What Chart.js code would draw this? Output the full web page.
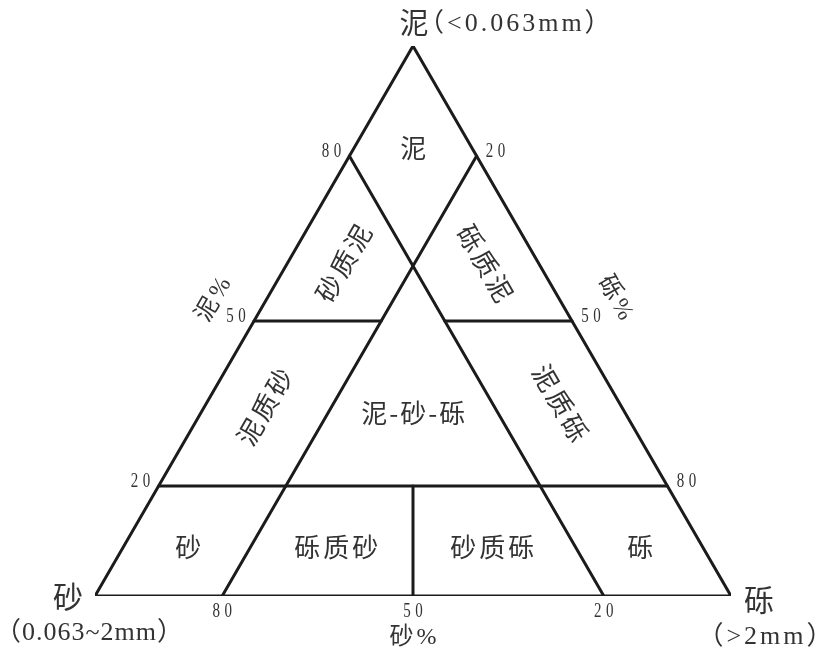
<!DOCTYPE html>
<html>
<head>
<meta charset="utf-8">
<title>泥-砂-砾 三角分类图</title>
<script src="https://cdn.jsdelivr.net/npm/chart.js@4"></script>
<style>
    html, body { margin: 0; padding: 0; background: #ffffff; }
    #wrap { width: 819px; height: 652px; }
</style>
</head>
<body>
<div id="wrap"><canvas id="ternaryChart" width="819" height="652"></canvas></div>
<script>
// compositions are [mud, sand, gravel] in percent
const vertexNames = ['泥', '砂', '砾'];
const vertexSizes = ['（<0.063mm）', '（0.063~2mm）', '（>2mm）'];
const axisTitles = ['泥%', '砾%', '砂%'];

const outline = [[0, 100, 0], [100, 0, 0], [0, 0, 100], [0, 100, 0]];
const dividers = [
    [[20, 80, 0], [20, 0, 80]],   // mud 20
    [[50, 50, 0], [50, 30, 20]],  // mud 50, left part
    [[50, 20, 30], [50, 0, 50]],  // mud 50, right part
    [[80, 0, 20], [0, 80, 20]],   // gravel 20
    [[80, 20, 0], [0, 20, 80]],   // sand 20
    [[20, 40, 40], [0, 50, 50]]   // sand = gravel below mud 20
];

const mudTicks = [80, 50, 20];     // left edge
const gravelTicks = [20, 50, 80];  // right edge
const sandTicks = [80, 50, 20];    // bottom edge

const regionNames = ['泥', '砂质泥', '砾质泥', '泥质砂', '泥-砂-砾', '泥质砾', '砂', '砾质砂', '砂质砾', '砾'];
const regionCentres = [
    [81.5, 9.2, 9.3], [60.5, 30.7, 8.8], [60.5, 8.4, 31.1], [34.4, 56.1, 9.5], [33.3, 33.3, 33.4],
    [35.1, 9.3, 55.6], [8.9, 80.9, 10.2], [8.9, 57.6, 33.5], [8.9, 33.1, 58.0], [8.9, 9.8, 81.3]
];

const LINE = '#1b1b1b';
const TEXT = '#333333';
const SERIF = '"Liberation Serif", "Noto Sans CJK SC", serif';
const CJK = '"Noto Sans CJK SC", sans-serif';

function toXY(c) {
    return { x: (c[2] + c[0] / 2) / 100, y: c[0] / 100 };
}

function lineDataset(points) {
    return {
        data: points.map(toXY),
        showLine: true,
        pointRadius: 0,
        borderColor: LINE,
        borderWidth: 3,
        borderJoinStyle: 'miter',
        borderCapStyle: 'round',
        fill: false
    };
}

// centred text; letter spacing is added after every glyph, so shift back by half of it
function drawText(ctx, text, x, y, font, angle, spacing, xScale) {
    ctx.save();
    ctx.translate(x, y);
    if (angle) ctx.rotate(angle * Math.PI / 180);
    if (xScale) ctx.scale(xScale, 1);
    ctx.font = font;
    ctx.fillStyle = TEXT;
    ctx.textAlign = 'center';
    ctx.textBaseline = 'middle';
    ctx.letterSpacing = (spacing || 0) + 'px';
    ctx.fillText(text, (spacing || 0) / 2, 0);
    ctx.restore();
}

function drawNumber(ctx, text, x, y) {
    drawText(ctx, text, x, y, '20px "Liberation Serif", serif', 0, 6, 0.75);
}

const ternaryLabels = {
    id: 'ternaryLabels',
    afterDatasetsDraw(chart) {
        const ctx = chart.ctx;
        const sx = chart.scales.x, sy = chart.scales.y;
        const px = c => {
            const p = toXY(c);
            return [sx.getPixelForValue(p.x), sy.getPixelForValue(p.y)];
        };

        // tick labels
        mudTicks.forEach(v => {
            const [x, y] = px([v, 100 - v, 0]);
            drawNumber(ctx, String(v), x - 18, y - 4);
        });
        gravelTicks.forEach(v => {
            const [x, y] = px([100 - v, 0, v]);
            drawNumber(ctx, String(v), x + 19, y - 4);
        });
        sandTicks.forEach(v => {
            const [x, y] = px([0, v, 100 - v]);
            drawNumber(ctx, String(v), x, y + 16);
        });

        // axis titles
        let p = px([50, 50, 0]);
        drawText(ctx, axisTitles[0], p[0] - 40, p[1] - 21, '24px ' + SERIF, -60, 3);
        p = px([50, 0, 50]);
        drawText(ctx, axisTitles[1], p[0] + 43, p[1] - 23, '24px ' + SERIF, 60, 3);
        p = px([0, 50, 50]);
        drawText(ctx, axisTitles[2], p[0], p[1] + 42, '24px ' + SERIF, 0, 3);

        // vertex names and grain sizes
        p = px([100, 0, 0]);
        drawText(ctx, vertexNames[0], p[0] + 1, p[1] - 23, '29px ' + CJK);
        ctx.save();
        ctx.font = '26px ' + SERIF;
        ctx.fillStyle = TEXT;
        ctx.textAlign = 'left';
        ctx.textBaseline = 'middle';
        ctx.letterSpacing = '3px';
        ctx.fillText(vertexSizes[0], p[0] + 5, p[1] - 22);
        ctx.restore();

        p = px([0, 100, 0]);
        drawText(ctx, vertexNames[1], p[0] - 27, p[1] + 1, '30px ' + CJK);
        drawText(ctx, vertexSizes[1], p[0] - 6, p[1] + 37, '26px ' + SERIF, 0, 1);

        p = px([0, 0, 100]);
        drawText(ctx, vertexNames[2], p[0] + 28, p[1] + 4, '30px ' + CJK);
        drawText(ctx, vertexSizes[2], p[0] + 34, p[1] + 41, '26px ' + SERIF, 0, 3);

        // region names
        const angles = [0, -60, 60, -60, 0, 60, 0, 0, 0, 0];
        regionNames.forEach((name, i) => {
            const [x, y] = px(regionCentres[i]);
            const spacing = name.length === 3 ? 3 : (name.length > 3 ? 2 : 0);
            drawText(ctx, name, x, y, '26px ' + CJK, angles[i], spacing);
        });
    }
};

const datasets = [lineDataset(outline)].concat(dividers.map(lineDataset));

new Chart(document.getElementById('ternaryChart'), {
    type: 'scatter',
    data: { datasets: datasets },
    options: {
        responsive: false,
        animation: false,
        layout: { padding: { left: 95, right: 88, top: 46, bottom: 56 } },
        scales: {
            x: { type: 'linear', min: 0, max: 1, display: false },
            y: { type: 'linear', min: 0, max: 1, display: false }
        },
        plugins: {
            legend: { display: false },
            tooltip: { enabled: false }
        },
        events: []
    },
    plugins: [ternaryLabels]
});
</script>
</body>
</html>
